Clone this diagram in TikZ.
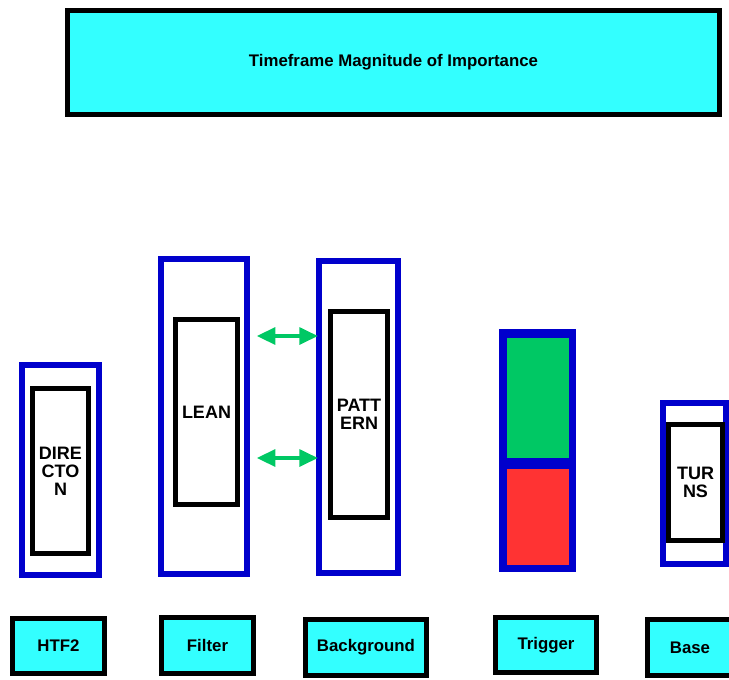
\documentclass[tikz,border=0pt]{standalone}
\usepackage{fontspec}
\setmainfont{Liberation Sans}
\usetikzlibrary{arrows.meta, shadows}

\definecolor{tfcyan}{RGB}{51,255,255}
\definecolor{tfblue}{RGB}{0,0,204}
\definecolor{tfgreen}{RGB}{0,200,100}
\definecolor{tfred}{RGB}{255,51,51}

\begin{document}
\begin{tikzpicture}[x=0.75pt, y=-0.75pt,
    label/.style={draw=black, line width=3.75pt, fill=tfcyan, inner sep=0pt, align=center, font=\bfseries\fontsize{12.6}{14}\selectfont},
    column/.style={draw=tfblue, line width=4.5pt, fill=white, inner sep=0pt, drop shadow={shadow xshift=1.8pt, shadow yshift=-1.8pt, fill=black!45, opacity=0.45}},
    panel/.style={draw=black, line width=3.75pt, fill=white, inner sep=0pt, align=center, font=\bfseries\fontsize{13.5}{13.5}\selectfont},
    link/.style={{Triangle[length=14pt, width=12.5pt]}-{Triangle[length=14pt, width=12.5pt]}, line width=3pt, tfgreen}]
    \useasboundingbox (0,0) rectangle (729,679);

    % Title
    \node[label, minimum width=489pt, minimum height=78pt] (title) at (393.5,62.5) {Timeframe Magnitude of Importance};

    % HTF2 column
    \node[column, minimum width=57.75pt, minimum height=157.5pt] (htfcol) at (60.5,470) {};
    \node[panel, minimum width=42pt, minimum height=123.75pt] (direction) at (60.5,471) {DIRE\\CTO\\N};

    % Filter column
    \node[column, minimum width=64.5pt, minimum height=236.25pt] (filtercol) at (204,416.5) {};
    \node[panel, minimum width=46.5pt, minimum height=138.75pt] (lean) at (206.5,412) {LEAN};

    % Background column
    \node[column, minimum width=59.25pt, minimum height=234pt] (bgcol) at (358.5,417) {};
    \node[panel, minimum width=42.75pt, minimum height=154.5pt] (pattern) at (359,414.5) {PATT\\ERN};

    % Trigger column: green over red
    \node[column, fill=tfblue, line width=6pt, minimum width=51.75pt, minimum height=176.25pt] (triggercol) at (537.5,450.5) {};
    \node[fill=tfgreen, inner sep=0pt, minimum width=46.5pt, minimum height=90pt] (buy) at (538,398) {};
    \node[fill=tfred, inner sep=0pt, minimum width=46.5pt, minimum height=72pt] (sell) at (538,517) {};

    % Base column
    \node[column, minimum width=47.25pt, minimum height=120.75pt] (basecol) at (694.5,483.5) {};
    \node[panel, minimum width=40.5pt, minimum height=87pt] (turns) at (695.5,482.5) {TUR\\NS};

    % Arrows between filter and background
    \coordinate (upper) at (0,336);
    \coordinate (lower) at (0,458);
    \draw[link] ([xshift=5pt]filtercol.east |- upper) -- ([xshift=1.5pt]bgcol.west |- upper);
    \draw[link] ([xshift=5pt]filtercol.east |- lower) -- ([xshift=1.5pt]bgcol.west |- lower);

    % Timeframe labels
    \node[label, minimum width=69pt, minimum height=41.25pt] (htf) at (58.5,646) {HTF2};
    \node[label, minimum width=69pt, minimum height=42pt] (filter) at (207.5,645.5) {Filter};
    \node[label, minimum width=90.75pt, minimum height=42pt] (background) at (366,647.5) {Background};
    \node[label, minimum width=75.75pt, minimum height=41.25pt] (trigger) at (546,645) {Trigger};
    \node[label, minimum width=63.75pt, minimum height=42pt] (base) at (690,647.5) {Base};
\end{tikzpicture}
\end{document}
